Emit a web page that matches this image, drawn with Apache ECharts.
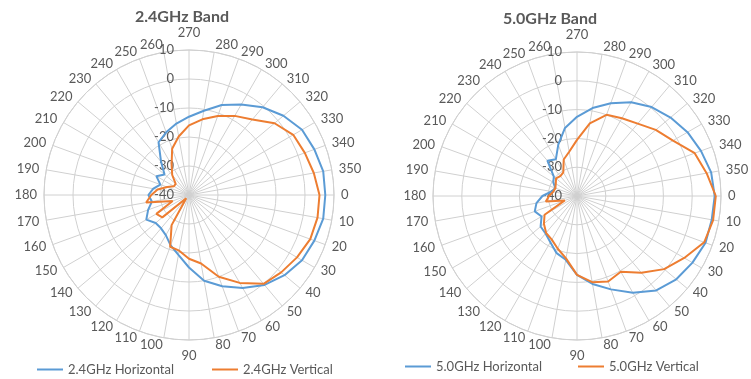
<!DOCTYPE html>
<html>
<head>
<meta charset="utf-8">
<script src="https://cdn.jsdelivr.net/npm/echarts@6/dist/echarts.min.js"></script>
<style>
html,body{margin:0;padding:0;background:#fff;}
#chart{width:751px;height:379px;}
</style>
</head>
<body>
<div id="chart"></div>
<script>
// angles in degrees, 0 at the right, going clockwise
var angles=[0,10,20,30,40,50,60,70,80,90,100,110,120,130,140,150,160,170,
            180,190,200,210,220,230,240,250,260,270,280,290,300,310,320,330,340,350];
var radiusTicks=[-40,-30,-20,-10,0,10];
var titles=["2.4GHz Band","5.0GHz Band"];
var names=["2.4GHz Horizontal","2.4GHz Vertical","5.0GHz Horizontal","5.0GHz Vertical"];

var h24=[7,7,6,5,3,0.5,-3,-6.5,-10,-15,-19,-21.5,-24,-25,-25,-23,-25,-27,
         -26,-27.5,-29.5,-27,-29,-25,-19,-17,-15,-13,-10.5,-7,-4,-0.5,2.5,5,6,7];
var v24=[5,5,4.5,3,1.5,0,-5,-10,-16,-18,-20.5,-21,-28,-38.5,-28,-27,-34,-25,
         -27,-29,-32,-34,-34,-31,-28,-23,-19.5,-16,-13.5,-11,-8.5,-6,-1.5,1.5,2.5,3.7];
var h50=[7.8,7.5,7.5,6.3,5,2.8,-1.2,-5.5,-9,-12.6,-17.5,-19,-21.5,-23,-23.5,-25.8,-24.4,-25.7,
         -28,-31,-32,-30.5,-29.5,-24,-25.3,-21,-16,-12.5,-9,-5.7,-2.4,0.3,2.4,4.3,5.8,7.3];
var v50=[8.2,8,7,3,-0.5,-5.2,-9.6,-8.4,-9.6,-12.6,-18,-20.5,-22.5,-23.3,-25,-27,-35.5,-29,
         -30.3,-31.6,-32,-31.5,-30.5,-31,-30.5,-26.5,-24.4,-20.5,-14.4,-10,-8.8,-7.2,-4.3,-1.5,3.5,5.7];

var blue="#5b9bd5", orange="#ed7d31", grid="#d0d0d0", txt="#595959";

// Excel centres ring labels on the anchor, echarts aligns them by the box edge;
// a padding per label nudges each one to the Excel spot
function labelPad(a){
  var t=a*Math.PI/180, c=Math.cos(t), s=Math.sin(t);
  var w=String(a).length*7.5, h=13;
  var p=[0,0,0,0];
  if(a===270){p[2]=4;}
  else if(a===90){p[0]=2;}
  else{
    if(Math.abs(s)>=0.3){ if(s<0) p[2]=-h/2; else p[0]=-h/2; }
    if(Math.abs(c)<0.3){ if(c>0) p[3]=w; else p[1]=w; }
  }
  return p;
}
var rich={};
angles.forEach(function(a){ rich["a"+a]={padding:labelPad(a)}; });

// angle axis runs 270..630 so the radius axis sits on the 270 spoke (top)
function toData(vals){
  var d=angles.map(function(a,i){return [vals[i], a<270 ? a+360 : a];});
  d.push(d[0]);
  return d;
}

function polarAxes(idx){
  return {
    angle:{
      polarIndex:idx,type:"value",min:270,max:630,interval:10,
      startAngle:90,clockwise:true,
      axisLine:{lineStyle:{color:grid,width:1}},
      axisTick:{show:false},
      splitLine:{show:true,lineStyle:{color:grid,width:1}},
      axisLabel:{color:txt,fontSize:13,margin:7,rich:rich,
        formatter:function(v){var a=v%360;return "{a"+a+"|"+a+"}";}}
    },
    radius:{
      polarIndex:idx,type:"value",
      min:radiusTicks[0],max:radiusTicks[radiusTicks.length-1],interval:10,
      axisLine:{show:false},axisTick:{show:false},
      splitLine:{show:true,lineStyle:{color:grid,width:1}},
      axisLabel:{color:txt,fontSize:13,margin:15}
    }
  };
}
var a0=polarAxes(0), a1=polarAxes(1);

function lineSeries(name,vals,color,idx){
  return {
    name:name,type:"line",coordinateSystem:"polar",polarIndex:idx,
    data:toData(vals),symbol:"none",
    lineStyle:{color:color,width:2},itemStyle:{color:color}
  };
}
function legendAt(name,x,y){
  return {data:[name],left:x,top:y,padding:0,icon:"rect",itemWidth:26,itemHeight:2,
          textStyle:{color:txt,fontSize:13}};
}

var myChart=echarts.init(document.getElementById("chart"));
myChart.setOption({
  animation:false,
  textStyle:{fontFamily:"Lato"},
  title:[
    {text:titles[0],left:182,top:9,textAlign:"center",padding:0,
     textStyle:{color:txt,fontSize:16,fontWeight:"bold"}},
    {text:titles[1],left:550,top:11,textAlign:"center",padding:0,
     textStyle:{color:txt,fontSize:16,fontWeight:"bold"}}
  ],
  polar:[
    {center:[189,195],radius:145},
    {center:[577,196],radius:144}
  ],
  angleAxis:[a0.angle,a1.angle],
  radiusAxis:[a0.radius,a1.radius],
  legend:[
    legendAt(names[0],37,363),
    legendAt(names[1],212,363),
    legendAt(names[2],405,360),
    legendAt(names[3],578,360)
  ],
  series:[
    lineSeries(names[0],h24,blue,0),
    lineSeries(names[1],v24,orange,0),
    lineSeries(names[2],h50,blue,1),
    lineSeries(names[3],v50,orange,1)
  ]
});
</script>
</body>
</html>
